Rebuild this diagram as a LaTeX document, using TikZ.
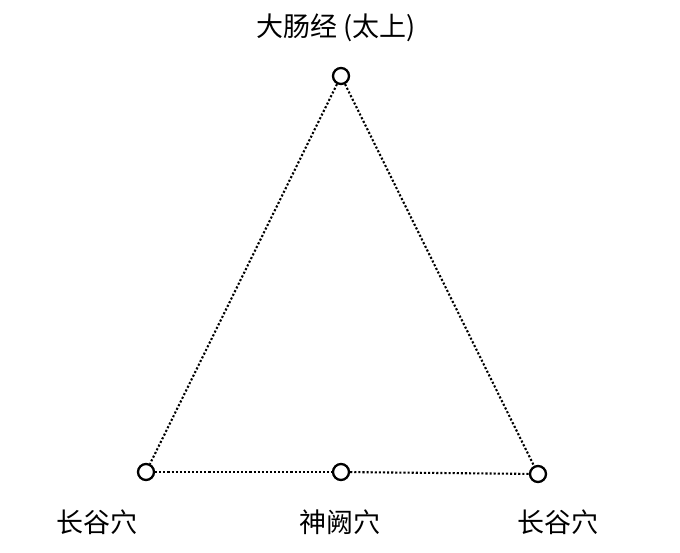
\documentclass[tikz,border=0pt]{standalone}
\usepackage{fontspec}
\newfontfamily\cjk{Noto Sans CJK SC}
\begin{document}
\begin{tikzpicture}[x=1pt,y=1pt,
  pt/.style={circle,draw=black,fill=white,line width=2.3pt,minimum size=16pt,inner sep=0pt},
  dotline/.style={line width=2.1pt,dash pattern=on 2.1pt off 2.0pt},
  lbl/.style={font=\cjk\fontsize{27}{31}\selectfont,inner sep=0pt}]
\useasboundingbox (0,0) rectangle (680,553);
\fill[white] (0,0) rectangle (680,553);
\node[pt] (top) at (341,477) {};
\node[pt] (left) at (146,81) {};
\node[pt] (mid) at (341,81) {};
\node[pt] (right) at (538,79) {};
\draw[dotline] (top) -- (left);
\draw[dotline] (top) -- (right);
\draw[dotline] (left) -- (mid);
\draw[dotline] (mid) -- (right);
\node[lbl] (ttop) at (336,525) {大肠经 (太上)};
\node[lbl] (tleft) at (97,31) {长谷穴};
\node[lbl] (tmid) at (340,31) {神阙穴};
\node[lbl] (tright) at (558,31) {长谷穴};
\end{tikzpicture}
\end{document}
